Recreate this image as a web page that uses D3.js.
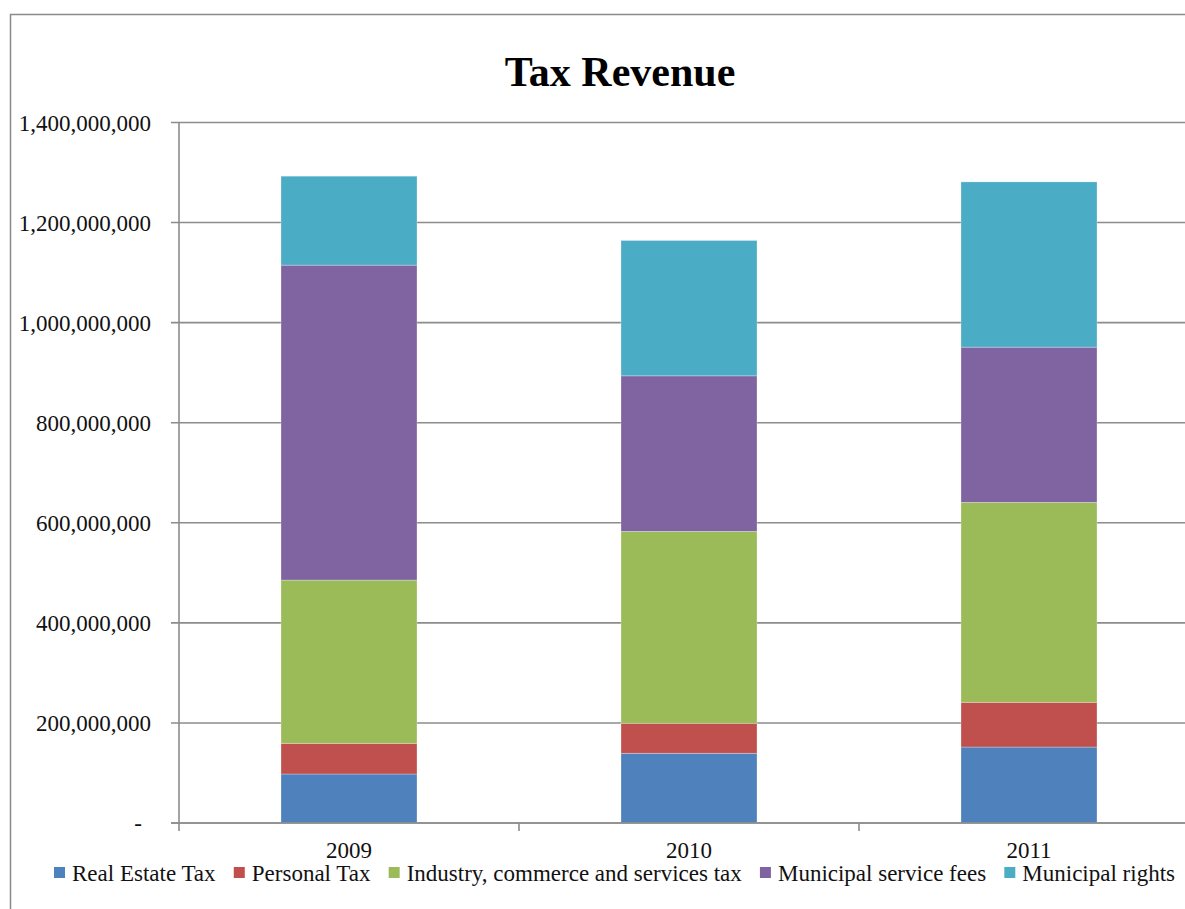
<!DOCTYPE html>
<html>
<head>
<meta charset="utf-8">
<script src="https://cdn.jsdelivr.net/npm/d3@7"></script>
<style>
  html, body { margin: 0; padding: 0; background: #fff; }
  svg { display: block; }
  svg text { font-family: "Liberation Serif", "Times New Roman", serif; }
</style>
</head>
<body>
<svg id="chart" width="1185" height="909"></svg>
<script>
// Tax revenue by year, stacked by revenue source
const years = ["2009", "2010", "2011"];
const seriesNames = [
  "Real Estate Tax",
  "Personal Tax",
  "Industry, commerce and services tax",
  "Municipal service fees",
  "Municipal rights"
];
const realEstateTax    = [97900000, 139300000, 151800000];
const personalTax      = [61300000, 59900000, 89400000];
const industryTax      = [326300000, 383600000, 399600000];
const serviceFees      = [629400000, 310900000, 310200000];
const municipalRights  = [177800000, 270500000, 330300000];
const yTicks = [0, 200000000, 400000000, 600000000, 800000000, 1000000000, 1200000000, 1400000000];
const colors = ["#4F81BD", "#C0504D", "#9BBB59", "#8064A2", "#4BACC6"];

const FONT = "Liberation Serif, Times New Roman, serif";
const LABEL_SIZE = 23;

const seriesValues = [realEstateTax, personalTax, industryTax, serviceFees, municipalRights];
const rows = years.map((yr, i) => {
  const r = { year: yr };
  seriesNames.forEach((s, k) => { r[s] = seriesValues[k][i]; });
  return r;
});

const svg = d3.select("#chart");

// chart area frame
svg.append("rect")
  .attr("x", 10.5).attr("y", 14.5)
  .attr("width", 1240).attr("height", 920)
  .attr("fill", "#fff").attr("stroke", "#8a8a8a").attr("stroke-width", 1.5);

const y = d3.scaleLinear().domain([0, 1400000000]).range([823, 122.5]);
const x = d3.scaleBand().domain(years).range([179, 1199]).paddingInner(0.6).paddingOuter(0.3);

// horizontal gridlines with tick stubs
svg.append("g").selectAll("line").data(yTicks).join("line")
  .attr("x1", 171).attr("x2", 1199)
  .attr("y1", d => y(d)).attr("y2", d => y(d))
  .attr("stroke", "#8c8c8c").attr("stroke-width", 1.6);

// y axis labels
const fmt = d3.format(",");
const yAxis = d3.axisLeft(y).tickValues(yTicks).tickSize(0).tickPadding(0)
  .tickFormat(d => d === 0 ? "-" : fmt(d));
const gy = svg.append("g").attr("transform", "translate(151,0)").call(yAxis)
  .attr("font-family", FONT);
gy.select(".domain").remove();
gy.selectAll("text")
  .attr("font-family", FONT)
  .attr("font-size", LABEL_SIZE).attr("fill", "#111")
  .attr("dy", "0.34em");
gy.selectAll(".tick").filter(d => d === 0).select("text").attr("x", -9);

// stacked bars
const stack = d3.stack().keys(seriesNames);
const layers = stack(rows);
svg.append("g").selectAll("g").data(layers).join("g")
  .attr("fill", (d, i) => colors[i])
  .selectAll("rect").data(d => d).join("rect")
  .attr("x", d => x(d.data.year))
  .attr("width", x.bandwidth())
  .attr("y", d => y(d[1]))
  .attr("height", d => y(d[0]) - y(d[1]))
  .attr("stroke", "rgba(255,255,255,0.35)").attr("stroke-width", 0.8);

// y axis line
svg.append("line")
  .attr("x1", 179).attr("x2", 179).attr("y1", y(1400000000)).attr("y2", 831)
  .attr("stroke", "#8c8c8c").attr("stroke-width", 1.6);

// x axis line and category boundary ticks
svg.append("line")
  .attr("x1", 171).attr("x2", 1199).attr("y1", y(0)).attr("y2", y(0))
  .attr("stroke", "#8c8c8c").attr("stroke-width", 1.6);
svg.append("g").selectAll("line").data(years).join("line")
  .attr("x1", d => x(d) + x.bandwidth() / 2 + x.step() / 2)
  .attr("x2", d => x(d) + x.bandwidth() / 2 + x.step() / 2)
  .attr("y1", y(0)).attr("y2", 831)
  .attr("stroke", "#8c8c8c").attr("stroke-width", 1.6);

// category labels
svg.append("g").selectAll("text").data(years).join("text")
  .attr("x", d => x(d) + x.bandwidth() / 2)
  .attr("y", 858)
  .attr("text-anchor", "middle")
  .attr("font-family", FONT)
  .attr("font-size", LABEL_SIZE).attr("fill", "#111")
  .text(d => d);

// title
svg.append("text")
  .attr("x", 620).attr("y", 86)
  .attr("text-anchor", "middle")
  .attr("font-family", FONT)
  .attr("font-size", 42).attr("font-weight", "bold").attr("fill", "#000")
  .text("Tax Revenue");

// legend: one row spread between the left and right limits
const legendLeft = 54, legendRight = 1175, swatchGap = 18;
const legend = svg.append("g");
const items = seriesNames.map((name, i) => {
  const g = legend.append("g");
  g.append("rect").attr("y", 867).attr("width", 11).attr("height", 11).attr("fill", colors[i]);
  const t = g.append("text")
    .attr("x", swatchGap).attr("y", 881)
    .attr("font-family", FONT)
    .attr("font-size", LABEL_SIZE).attr("fill", "#111")
    .text(name);
  return { g, w: swatchGap + t.node().getComputedTextLength() };
});
const used = d3.sum(items, d => d.w);
const gap = (legendRight - legendLeft - used) / (items.length - 1);
let lx = legendLeft;
items.forEach(it => {
  it.g.attr("transform", `translate(${lx},0)`);
  lx += it.w + gap;
});
</script>
</body>
</html>
